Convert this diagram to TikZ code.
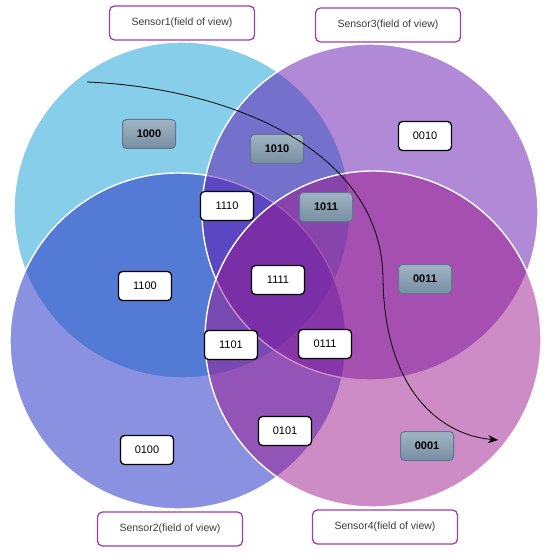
\documentclass[tikz,border=0pt]{standalone}
\usepackage{fontspec}
\setmainfont{Liberation Sans}
\usetikzlibrary{arrows.meta, shapes.misc}
\definecolor{fovA}{RGB}{135,206,235}
\definecolor{fovB}{RGB}{42,55,198}
\definecolor{fovC}{RGB}{97,21,173}
\definecolor{fovD}{RGB}{155,25,141}
\definecolor{lblpurple}{RGB}{165,60,165}
\definecolor{darktxt}{RGB}{60,60,60}
\definecolor{slatetop}{RGB}{160,180,195}
\definecolor{slatebot}{RGB}{120,142,162}
\definecolor{slateedge}{RGB}{95,120,145}
\tikzset{
  fov/.style={circle, draw=white, line width=1.4pt, minimum size=336pt,
              inner sep=0pt},
  sensorlbl/.style={rectangle, draw=lblpurple, line width=1.3pt,
                    rounded corners=5pt, fill=white, minimum width=145pt,
                    minimum height=34pt, text=darktxt,
                    font=\fontsize{10.5}{12}\selectfont},
  bitbox/.style={rectangle, draw=black, line width=1.3pt, rounded corners=4pt,
                 fill=white, minimum width=53pt, minimum height=29pt,
                 font=\fontsize{11}{13}\selectfont},
  bitboxhl/.style={bitbox, draw=slateedge, line width=1pt,
                   top color=slatetop, bottom color=slatebot,
                   font=\fontsize{11}{13}\selectfont\bfseries},
  traj/.style={-{Stealth[length=10pt,width=8pt]}, line width=0.8pt},
}
\begin{document}
\begin{tikzpicture}[x=1pt, y=-1pt]
  \useasboundingbox (0,0) rectangle (550,556);

  % fields of view
  \node[fov, fill=fovA] (s1) at (182,210) {};
  \node[fov, fill=fovB, fill opacity=0.55] (s2) at (178,341) {};
  \node[fov, fill=fovC, fill opacity=0.5] (s3) at (370,212) {};
  \node[fov, fill=fovD, fill opacity=0.5] (s4) at (373,339) {};

  \node[sensorlbl] (l1) at (182,23) {Sensor1(field of view)};
  \node[sensorlbl] (l3) at (388,25) {Sensor3(field of view)};
  \node[sensorlbl] (l2) at (170,529) {Sensor2(field of view)};
  \node[sensorlbl] (l4) at (385,527) {Sensor4(field of view)};

  % region codes
  \node[bitboxhl] (r1000) at (149,134) {1000};
  \node[bitboxhl] (r1010) at (277,149) {1010};
  \node[bitbox]   (r0010) at (425,136) {0010};
  \node[bitbox]   (r1110) at (227,206) {1110};
  \node[bitboxhl] (r1011) at (326,207) {1011};
  \node[bitbox]   (r1100) at (145,286) {1100};
  \node[bitbox]   (r1111) at (278,280) {1111};
  \node[bitboxhl] (r0011) at (425,279) {0011};
  \node[bitbox]   (r1101) at (231,345) {1101};
  \node[bitbox]   (r0111) at (325,344) {0111};
  \node[bitbox]   (r0100) at (147,450) {0100};
  \node[bitbox]   (r0101) at (285,431) {0101};
  \node[bitboxhl] (r0001) at (427,446) {0001};

  % target path
  \coordinate (tstart) at (87,82);
  \coordinate (tmid) at (383,280);
  \coordinate (tend) at (498,440);
  \draw[traj] (tstart) .. controls (230,88) and (383,150) .. (tmid)
    .. controls (385,390) and (440,435) .. (tend);
\end{tikzpicture}
\end{document}
